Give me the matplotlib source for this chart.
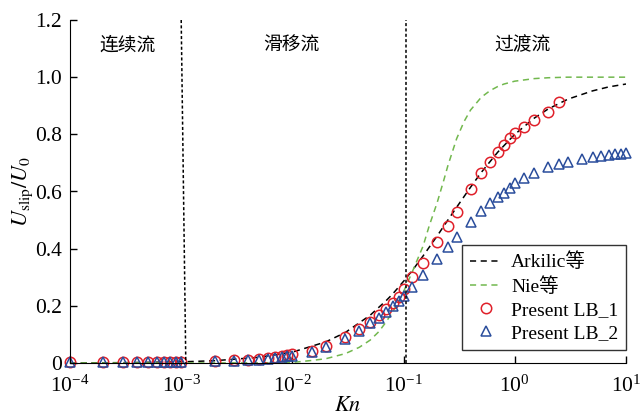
import matplotlib
matplotlib.use("Agg")
import matplotlib.pyplot as plt

plt.rcParams['font.family'] = ['Liberation Serif', 'Noto Sans CJK SC']
plt.rcParams['mathtext.fontset'] = 'stix'

# Arkilic et al. analytical curve
ark_kn = [1e-4, 3e-4, 1e-3, 2e-3, 5e-3, 1e-2, 2e-2, 3e-2, 5e-2, 7e-2, 8e-2, 0.1, 0.12,
          0.15, 0.2, 0.25, 0.3, 0.4, 0.5, 0.7, 1.0, 1.5, 2.0, 3.0, 5.0, 7.0, 10.0]
ark_u = [0.0004, 0.0012, 0.004, 0.008, 0.02, 0.038, 0.074, 0.107, 0.167, 0.219, 0.242, 0.286, 0.324,
         0.375, 0.444, 0.5, 0.545, 0.615, 0.667, 0.737, 0.80, 0.857, 0.889, 0.923, 0.952, 0.966, 0.976]

# Nie et al. curve
nie_kn = [1e-4, 1e-3, 5e-3, 1e-2, 1.5e-2, 2e-2, 3e-2, 4e-2, 5e-2, 6e-2, 7e-2, 8e-2, 9e-2, 0.1,
          0.12, 0.15, 0.17, 0.2, 0.23, 0.25, 0.3, 0.35, 0.4, 0.5, 0.6, 0.7, 0.8, 1.0, 1.5, 2.0, 3.0, 10.0]
nie_u = [0.0, 0.0, 0.0005, 0.002, 0.009, 0.015, 0.033, 0.055, 0.08, 0.11, 0.145, 0.18, 0.215, 0.25,
         0.32, 0.41, 0.48, 0.56, 0.64, 0.69, 0.785, 0.845, 0.885, 0.93, 0.953, 0.967, 0.976, 0.986,
         0.995, 0.998, 1.0, 1.0]

# Present LB_1 (circles)
lb1_kn = [1e-4, 2e-4, 3e-4, 4e-4, 5e-4, 6e-4, 7e-4, 8e-4, 9e-4, 1e-3,
          2e-3, 3e-3, 4e-3, 5e-3, 6e-3, 7e-3, 8e-3, 9e-3, 1e-2,
          1.5e-2, 2e-2, 3e-2, 4e-2, 5e-2, 6e-2, 7e-2, 8e-2, 9e-2, 0.1,
          0.12, 0.15, 0.2, 0.25, 0.3, 0.4, 0.5, 0.6, 0.7, 0.8, 0.9, 1.0, 1.2, 1.5, 2.0, 2.5]
lb1_u = [0.003, 0.003, 0.003, 0.003, 0.004, 0.004, 0.004, 0.004, 0.004, 0.005,
         0.008, 0.009, 0.011, 0.013, 0.016, 0.021, 0.024, 0.028, 0.032,
         0.043, 0.06, 0.091, 0.119, 0.145, 0.168, 0.189, 0.21, 0.231, 0.26,
         0.30, 0.35, 0.423, 0.48, 0.53, 0.607, 0.665, 0.703, 0.738, 0.763, 0.787, 0.805, 0.826, 0.85, 0.878, 0.913]

# Present LB_2 (triangles)
lb2_kn = [1e-4, 2e-4, 3e-4, 4e-4, 5e-4, 6e-4, 7e-4, 8e-4, 9e-4, 1e-3,
          2e-3, 3e-3, 4e-3, 5e-3, 6e-3, 7e-3, 8e-3, 9e-3, 1e-2,
          1.5e-2, 2e-2, 3e-2, 4e-2, 5e-2, 6e-2, 7e-2, 8e-2, 9e-2, 0.1,
          0.12, 0.15, 0.2, 0.25, 0.3, 0.4, 0.5, 0.6, 0.7, 0.8, 0.9, 1.0, 1.2, 1.5, 2.0, 2.5,
          3.0, 4.0, 5.0, 6.0, 7.0, 8.0, 9.0, 10.0]
lb2_u = [0.002, 0.002, 0.002, 0.002, 0.003, 0.003, 0.003, 0.003, 0.003, 0.004,
         0.006, 0.007, 0.009, 0.011, 0.013, 0.017, 0.02, 0.023, 0.026,
         0.04, 0.056, 0.085, 0.113, 0.14, 0.159, 0.18, 0.2, 0.218, 0.236,
         0.266, 0.308, 0.364, 0.406, 0.441, 0.493, 0.532, 0.56, 0.581, 0.595, 0.612, 0.63, 0.647, 0.665, 0.686, 0.695,
         0.703, 0.714, 0.721, 0.724, 0.728, 0.731, 0.732, 0.735]

# flow regime boundaries (first one is slightly slanted in the original)
bound1_kn = [1.0e-3, 1.1e-3]
bound2_kn = 0.105
regime_labels = ['连续流', '滑移流', '过渡流']
regime_kn = [3.3e-4, 9.7e-3, 1.16]

fig = plt.figure(figsize=(6.41, 4.19), dpi=100)
ax = fig.add_axes([70 / 641, 1 - 363 / 419, 556 / 641, 343 / 419])

ax.plot(ark_kn, ark_u, color='black', linestyle=(0, (4, 3)), lw=1.1, label='Arkilic等')
ax.plot(nie_kn, nie_u, color='#72b84e', linestyle=(0, (4, 3)), lw=1.1, label='Nie等')
ax.plot(lb1_kn, lb1_u, linestyle='none', marker='o', ms=7.5, mfc='none', mec='#e0202a',
        mew=1.1, label='Present LB_1', clip_on=False)
ax.plot(lb2_kn, lb2_u, linestyle='none', marker='^', ms=7.5, mfc='none', mec='#2a4d9c',
        mew=1.1, label='Present LB_2', clip_on=False)

# regime boundaries
ax.plot(bound1_kn, [1.2, 0], color='black', linestyle=(0, (2, 1.5)), lw=1.1)
ax.axvline(bound2_kn, color='black', linestyle=(0, (2, 1.5)), lw=1.1)
for label, kn in zip(regime_labels, regime_kn):
    ax.text(kn, 1.113, label, ha='center', va='center', fontsize=13.5,
            family=['Noto Sans CJK SC', 'DejaVu Sans'])

ax.set_xscale('log')
ax.set_xlim(1e-4, 10)
ax.set_ylim(0, 1.2)
ax.set_xticks([1e-4, 1e-3, 1e-2, 1e-1, 1, 10])
ax.minorticks_off()
ax.set_yticks([0, 0.2, 0.4, 0.6, 0.8, 1.0, 1.2])
ax.set_yticklabels(['0', '0.2', '0.4', '0.6', '0.8', '1.0', '1.2'])
ax.tick_params(direction='in', length=5, labelsize=15.5, width=1)
ax.tick_params(axis='x', pad=9)
ax.tick_params(axis='y', pad=6)
ax.spines['top'].set_visible(False)
ax.spines['right'].set_visible(False)

ax.set_xlabel('$Kn$', fontsize=16, labelpad=0)
ax.set_ylabel(r'$U_{\rm slip}/U_0$', fontsize=16, labelpad=0)

leg = ax.legend(loc='lower right', bbox_to_anchor=(1.0, 0.038), fontsize=14,
                frameon=True, fancybox=False, edgecolor='black', borderaxespad=0,
                handlelength=1.6, handletextpad=0.5, labelspacing=0.29, borderpad=0.4)
leg.get_frame().set_linewidth(1.0)

fig.savefig('out.png', dpi=100)
